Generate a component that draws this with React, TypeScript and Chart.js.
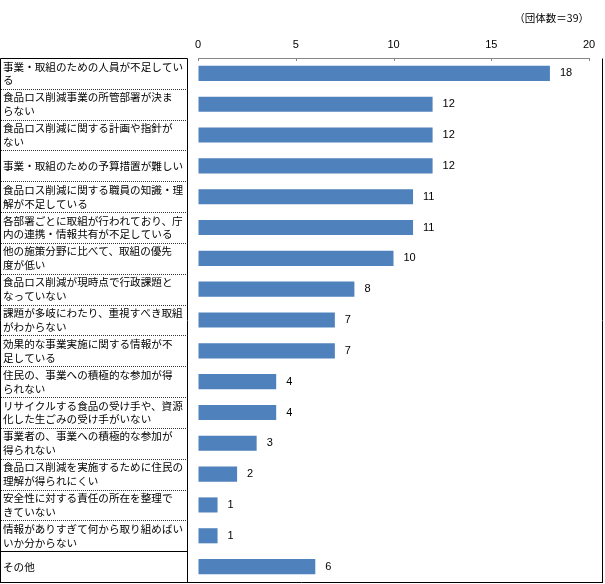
import React, { useEffect, useRef } from "react";
import { Chart, registerables } from "chart.js";

Chart.register(...registerables);

const categories: (string | string[])[] = [
  ["事業・取組のための人員が不足してい", "る"],
  ["食品ロス削減事業の所管部署が決ま", "らない"],
  ["食品ロス削減に関する計画や指針が", "ない"],
  "事業・取組のための予算措置が難しい",
  ["食品ロス削減に関する職員の知識・理", "解が不足している"],
  ["各部署ごとに取組が行われており、庁", "内の連携・情報共有が不足している"],
  ["他の施策分野に比べて、取組の優先", "度が低い"],
  ["食品ロス削減が現時点で行政課題と", "なっていない"],
  ["課題が多岐にわたり、重視すべき取組", "がわからない"],
  ["効果的な事業実施に関する情報が不", "足している"],
  ["住民の、事業への積極的な参加が得", "られない"],
  ["リサイクルする食品の受け手や、資源", "化した生ごみの受け手がいない"],
  ["事業者の、事業への積極的な参加が", "得られない"],
  ["食品ロス削減を実施するために住民の", "理解が得られにくい"],
  ["安全性に対する責任の所在を整理で", "きていない"],
  ["情報がありすぎて何から取り組めばい", "いか分からない"],
  "その他",
];

const values: number[] = [18, 12, 12, 12, 11, 11, 10, 8, 7, 7, 4, 4, 3, 2, 1, 1, 6];

const xTickValues: number[] = [0, 5, 10, 15, 20];

const note = "（団体数＝39）";

const CJK = "'Noto Sans CJK JP', 'Noto Sans', sans-serif";
const LATIN = "'Liberation Sans', Arial, sans-serif";

export default function App() {
  const ref = useRef<HTMLCanvasElement>(null);

  useEffect(() => {
    const tablePlugin = {
      id: "tableBorders",
      afterDraw(chart: any) {
        const ctx = chart.ctx as CanvasRenderingContext2D;
        const y = chart.scales.y;
        const x = chart.scales.x;
        const area = chart.chartArea;
        const n = categories.length;
        const step = y.getPixelForValue(1) - y.getPixelForValue(0);
        const bounds: number[] = [];
        for (let i = 0; i < n; i++) bounds.push(y.getPixelForValue(i) - step / 2);
        bounds.push(y.getPixelForValue(n - 1) + step / 2);
        const r = (v: number) => Math.round(v) + 0.5;
        const colRight = area.left - 11;
        const outerRight = chart.width - 2.5;
        const bottom = Math.min(r(bounds[n]), chart.height - 1.5);
        ctx.save();
        ctx.strokeStyle = "#868686";
        ctx.lineWidth = 1;
        ctx.beginPath();
        xTickValues.forEach((v) => {
          const px = r(x.getPixelForValue(v));
          ctx.moveTo(px, area.top);
          ctx.lineTo(px, area.top + 3);
        });
        ctx.stroke();
        ctx.strokeStyle = "#000";
        ctx.beginPath();
        ctx.moveTo(0.5, r(bounds[0]));
        ctx.lineTo(r(colRight), r(bounds[0]));
        ctx.moveTo(0.5, r(bounds[0]));
        ctx.lineTo(0.5, bottom);
        ctx.moveTo(r(colRight), r(bounds[0]));
        ctx.lineTo(r(colRight), bottom);
        ctx.moveTo(outerRight, r(bounds[0]));
        ctx.lineTo(outerRight, bottom);
        ctx.moveTo(0, bottom);
        ctx.lineTo(outerRight + 0.5, bottom);
        ctx.moveTo(0, r(bounds[n - 1]));
        ctx.lineTo(r(colRight), r(bounds[n - 1]));
        ctx.stroke();
        ctx.beginPath();
        ctx.setLineDash([1, 1]);
        ctx.strokeStyle = "#333";
        for (let i = 1; i < n - 1; i++) {
          ctx.moveTo(1, r(bounds[i]));
          ctx.lineTo(r(colRight), r(bounds[i]));
        }
        ctx.stroke();
        ctx.restore();
      },
    };

    const valuePlugin = {
      id: "valueLabels",
      afterDatasetsDraw(chart: any) {
        const ctx = chart.ctx as CanvasRenderingContext2D;
        const meta = chart.getDatasetMeta(0);
        ctx.save();
        ctx.font = `11px ${LATIN}`;
        ctx.fillStyle = "#000";
        ctx.textAlign = "left";
        ctx.textBaseline = "middle";
        meta.data.forEach((bar: any, i: number) => {
          ctx.fillText(String(values[i]), bar.x + 10, bar.y);
        });
        ctx.restore();
      },
    };

    const chart = new Chart(ref.current!, {
      type: "bar",
      data: {
        labels: categories,
        datasets: [
          {
            data: values,
            backgroundColor: "#4F81BD",
            borderWidth: 0,
            barPercentage: 0.49,
            categoryPercentage: 1,
          },
        ],
      },
      options: {
        indexAxis: "y",
        responsive: false,
        maintainAspectRatio: false,
        animation: false,
        layout: { padding: { left: 3, right: 16, top: 0, bottom: 2 } },
        plugins: {
          legend: { display: false },
          tooltip: { enabled: false },
        },
        scales: {
          x: {
            position: "top",
            min: 0,
            max: 20,
            afterBuildTicks: (s: any) => {
              s.ticks = xTickValues.map((v) => ({ value: v }));
            },
            afterFit: (s: any) => {
              s.height = 58;
              s.paddingLeft = 0;
              s.paddingRight = 0;
            },
            grid: {
              drawOnChartArea: false,
              drawTicks: false,
              color: "#868686",
            },
            border: { display: true, color: "#868686", width: 1 },
            ticks: {
              font: { family: LATIN, size: 11 },
              color: "#000",
              padding: 6,
            },
            title: {
              display: true,
              text: note,
              align: "end",
              color: "#000",
              font: { family: CJK, size: 10.5 },
              padding: { top: 12, bottom: 0 },
            },
          },
          y: {
            afterFit: (s: any) => {
              s.width = 195;
              s.paddingTop = 0;
              s.paddingBottom = 0;
            },
            grid: { display: false },
            border: { display: false },
            ticks: {
              autoSkip: false,
              crossAlign: "far",
              font: { family: CJK, size: 10.6, lineHeight: 1.3 },
              color: "#000",
            },
          },
        },
      },
      plugins: [tablePlugin, valuePlugin],
    } as any);

    return () => chart.destroy();
  }, []);

  return (
    <div style={{ position: "fixed", left: 0, top: 0, width: 605, height: 584, background: "#fff" }}>
      <canvas ref={ref} width={605} height={584} />
    </div>
  );
}
